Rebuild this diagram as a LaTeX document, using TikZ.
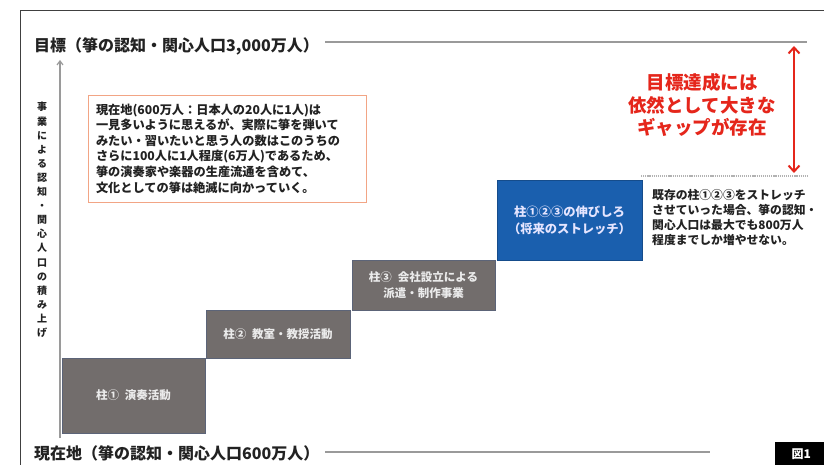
\documentclass[tikz,border=0pt]{standalone}
\usepackage{fontspec}
\setmainfont{Noto Sans CJK JP}
\usetikzlibrary{arrows.meta}
\definecolor{pillargray}{HTML}{726D6C}
\definecolor{pillaredge}{HTML}{5C6478}
\definecolor{stretchblue}{HTML}{1A5FAE}
\definecolor{gapred}{HTML}{E5261B}
\definecolor{noteorange}{HTML}{F2A585}
\definecolor{inkdark}{HTML}{222222}
\definecolor{rulegray}{HTML}{9A9A9A}
\tikzset{
  heading/.style={anchor=west, inner sep=0pt, text=inkdark, font=\bfseries\fontsize{16}{16}\selectfont},
  levelline/.style={draw=rulegray, line width=1.3pt},
  pillar/.style={fill=pillargray, draw=pillaredge, line width=0.6pt, text=black!8, align=center, inner sep=0pt, font=\bfseries\fontsize{11.5}{16}\selectfont},
  stretchbox/.style={fill=stretchblue, draw=stretchblue!80!black, line width=0.6pt, text=white!90!blue, align=center, inner sep=0pt, font=\bfseries\fontsize{12.3}{17}\selectfont},
  notebox/.style={draw=noteorange, line width=0.9pt, align=left, inner sep=0pt, text=inkdark, font=\bfseries\fontsize{12.2}{15.6}\selectfont},
  sidetext/.style={anchor=north west, align=left, inner sep=0pt, text=inkdark, font=\bfseries\fontsize{11.8}{15}\selectfont},
  gaptext/.style={align=center, inner sep=0pt, text=gapred, font=\bfseries\fontsize{18.5}{22.5}\selectfont},
  vlabel/.style={align=center, inner sep=0pt, text=inkdark, font=\bfseries\fontsize{10}{14.1}\selectfont},
}
\begin{document}
\begin{tikzpicture}[x=1pt,y=-1pt]
\useasboundingbox (0,0) rectangle (824,465);
\fill[white] (0,0) rectangle (824,465);
% outer frame
\coordinate (fbl) at (20,465);
\coordinate (ftl) at (20,11);
\coordinate (ftr) at (824,11);
\draw[black!75, line width=1pt] (fbl) -- (ftl) -- (ftr);

% goal heading and line
\node[heading] (goal) at (34,46) {目標（箏の認知・関心人口3,000万人）};
\coordinate (goalL) at (325,42);
\coordinate (goalR) at (807,42);
\draw[levelline] (goalL) -- (goalR);

% current heading and line
\node[heading] (now) at (34,453) {現在地（箏の認知・関心人口600万人）};
\coordinate (nowL) at (325,452);
\coordinate (nowR) at (710,452);
\draw[levelline] (nowL) -- (nowR);

% vertical axis
\coordinate (axB) at (60,438);
\coordinate (axT) at (60,60);
\draw[rulegray, line width=1.2pt, -{Straight Barb[length=4pt,width=6pt]}] (axB) -- (axT);
\node[vlabel] (vl) at (42,220) {事\\業\\に\\よ\\る\\認\\知\\・\\関\\心\\人\\口\\の\\積\\み\\上\\げ};

% note box
\node[notebox, minimum width=278pt, minimum height=107pt, text width=262pt] (note) at (227,148.5)
  {現在地(600万人：日本人の20人に1人)は\\
   一見多いように思えるが、実際に箏を弾いて\\
   みたい・習いたいと思う人の数はこのうちの\\
   さらに100人に1人程度(6万人)であるため、\\
   箏の演奏家や楽器の生産流通を含めて、\\
   文化としての箏は絶滅に向かっていく。};

% pillars
\node[pillar, minimum width=143pt, minimum height=75pt] (p1) at (133.5,395.5) {柱①\hspace{6pt}演奏活動};
\node[pillar, minimum width=144pt, minimum height=48pt] (p2) at (278,334) {柱②\hspace{6pt}教室・教授活動};
\node[pillar, minimum width=143pt, minimum height=50pt] (p3) at (423.5,285) {柱③\hspace{6pt}会社設立による\\派遣・制作事業};
\node[stretchbox, minimum width=145pt, minimum height=80pt] (p4) at (569.5,220) {柱①②③の伸びしろ\\（将来のストレッチ）};

% dotted reach line
\coordinate (dotL) at (641,176);
\coordinate (dotR) at (808,176);
\draw[gray!60, line width=1.6pt, dash pattern=on 1.2pt off 0.9pt] (dotL) -- (dotR);

% side text
\node[sidetext] (side) at (652,189)
  {既存の柱①②③をストレッチ\\
   させていった場合、箏の認知・\\
   関心人口は最大でも800万人\\
   程度までしか増やせない。};

% gap arrow and text
\coordinate (gapT) at (794,46);
\coordinate (gapB) at (794,173);
\draw[gapred, line width=2pt, {Straight Barb[length=6pt,width=11pt]}-{Straight Barb[length=6pt,width=11pt]}] (gapT) -- (gapB);
\node[gaptext] (gap) at (702,105) {目標達成には\\依然として大きな\\ギャップが存在};

% figure label
\node[fill=black, text=white!85, inner sep=0pt, minimum width=52pt, minimum height=24pt, anchor=north west, font=\bfseries\fontsize{12}{12}\selectfont] (fig) at (775,442) {図1};
\end{tikzpicture}
\end{document}
